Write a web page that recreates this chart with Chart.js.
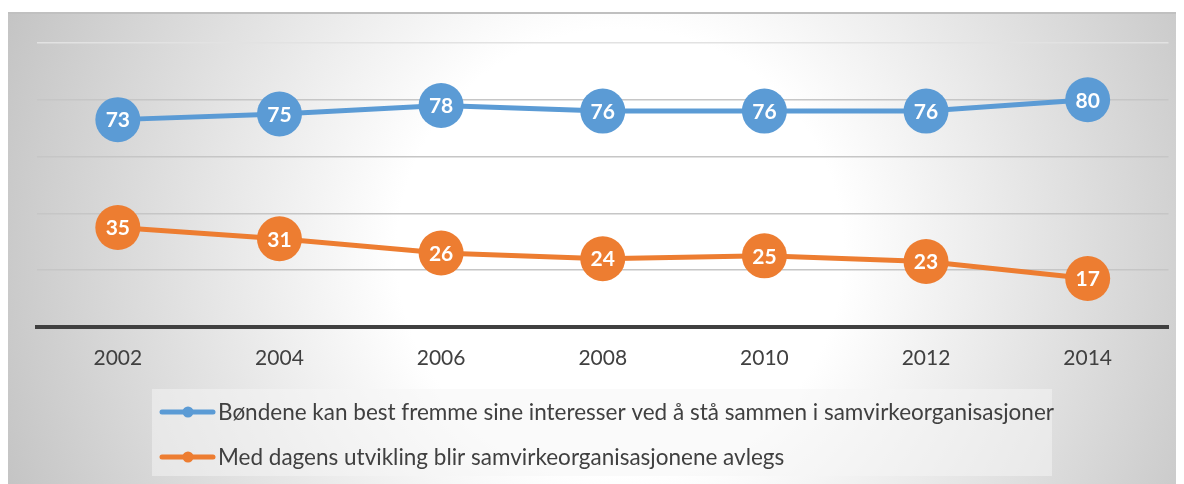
<!DOCTYPE html>
<html>
<head>
<meta charset="utf-8">
<script src="https://cdn.jsdelivr.net/npm/chart.js@4"></script>
<style>
  html, body { margin: 0; padding: 0; background: #fff; overflow: hidden; }
  #panel {
    position: absolute;
    left: 8px; top: 12px; width: 1168px; height: 472px;
    border-top: 2px solid #c0c0c0;
    box-sizing: border-box;
    background: radial-gradient(circle farthest-corner at 612px 238px, #ffffff 0%, #ffffff 34%, #c4c4c4 100%);
  }
  #wrap { position: absolute; left: 0; top: 0; width: 1191px; height: 484px; }
</style>
</head>
<body>
<div id="panel"></div>
<div id="wrap"><canvas id="chart"></canvas></div>
<script>
const years = ["2002", "2004", "2006", "2008", "2010", "2012", "2014"];
const standTogether = [73, 75, 78, 76, 76, 76, 80];
const outdated = [35, 31, 26, 24, 25, 23, 17];
const seriesNames = [
  "Bøndene kan best fremme sine interesser ved å stå sammen i samvirkeorganisasjoner",
  "Med dagens utvikling blir samvirkeorganisasjonene avlegs",
];

const blue = "#5b9bd5";
const orange = "#ed7d31";

// white numbers inside the big markers
const valueLabels = {
  id: "valueLabels",
  afterDatasetsDraw(chart) {
    const ctx = chart.ctx;
    ctx.save();
    ctx.font = "bold 21px Lato";
    ctx.fillStyle = "#ffffff";
    ctx.textAlign = "center";
    ctx.textBaseline = "middle";
    chart.data.datasets.forEach((ds, i) => {
      chart.getDatasetMeta(i).data.forEach((pt, j) => {
        ctx.fillText(ds.data[j], pt.x, pt.y + 1);
      });
    });
    ctx.restore();
  },
};

// legend box under the axis
const boxLegend = {
  id: "boxLegend",
  afterDraw(chart) {
    const ctx = chart.ctx;
    const x0 = 152, y0 = 389, w = 900, h = 87;
    ctx.save();
    ctx.fillStyle = "rgba(245,245,245,0.5)";
    ctx.fillRect(x0, y0, w, h);
    ctx.font = "22.5px Lato";
    ctx.textBaseline = "middle";
    chart.data.datasets.forEach((ds, i) => {
      const y = y0 + 23 + i * 45;
      ctx.strokeStyle = ds.borderColor;
      ctx.lineWidth = 5;
      ctx.lineCap = "round";
      ctx.beginPath();
      ctx.moveTo(162, y);
      ctx.lineTo(213, y);
      ctx.stroke();
      ctx.fillStyle = ds.borderColor;
      ctx.beginPath();
      ctx.arc(188, y, 5.5, 0, Math.PI * 2);
      ctx.fill();
      ctx.fillStyle = "#404040";
      ctx.fillText(ds.label, 218, y + 1);
    });
    ctx.restore();
  },
};

new Chart(document.getElementById("chart"), {
  type: "line",
  data: {
    labels: years,
    datasets: [
      {
        label: seriesNames[0],
        data: standTogether,
        borderColor: blue,
        backgroundColor: blue,
        borderWidth: 5,
        pointRadius: 22.5,
        pointHoverRadius: 22.5,
        pointBorderWidth: 0,
        tension: 0,
      },
      {
        label: seriesNames[1],
        data: outdated,
        borderColor: orange,
        backgroundColor: orange,
        borderWidth: 5,
        pointRadius: 22.5,
        pointHoverRadius: 22.5,
        pointBorderWidth: 0,
        tension: 0,
      },
    ],
  },
  options: {
    responsive: true,
    maintainAspectRatio: false,
    animation: false,
    layout: { padding: { left: 37, right: 0, top: 43, bottom: 94 } },
    plugins: {
      legend: { display: false },
      tooltip: { enabled: false },
    },
    scales: {
      x: {
        offset: true,
        grid: { display: false, drawTicks: false },
        border: { display: true, color: "#404040", width: 4 },
        ticks: { color: "#404040", font: { family: "Lato", size: 21 }, padding: 19 },
      },
      y: {
        min: 0,
        max: 100,
        ticks: { display: false, stepSize: 20 },
        grid: {
          color: (c) => (c.tick && c.tick.value === 100 ? "#e2e2e2" : "#c6c6c6"),
          lineWidth: 1.5,
          drawTicks: false,
        },
        border: { display: false },
      },
    },
  },
  plugins: [valueLabels, boxLegend],
});
</script>
</body>
</html>
